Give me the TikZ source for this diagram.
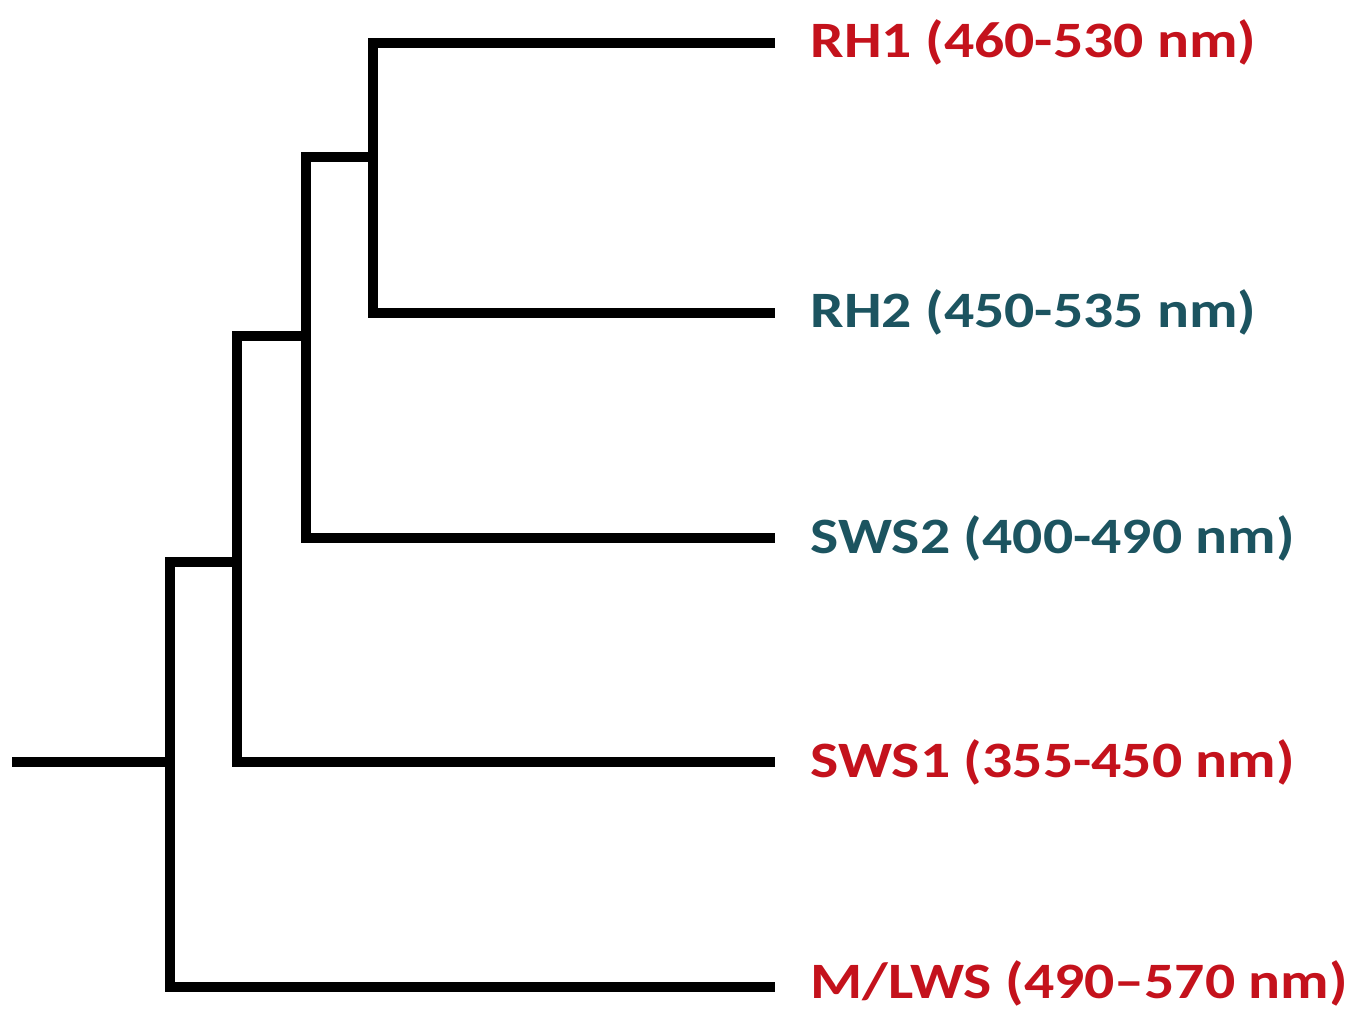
\documentclass[tikz,border=0pt]{standalone}
\usepackage{fontspec}
\setmainfont{Carlito}
\newfontfamily\labelfont[FakeStretch=1.17]{Carlito}
\definecolor{opsred}{RGB}{196,18,28}
\definecolor{opsteal}{RGB}{28,84,96}
\begin{document}
\begin{tikzpicture}[x=0.5pt,y=-0.5pt,
  branch/.style={line width=5pt,line join=miter,line cap=butt,black},
  leaflabel/.style={anchor=base west,inner sep=0pt,font=\labelfont\bfseries\fontsize{25.5}{30}\selectfont}]
\useasboundingbox (0,0) rectangle (1350,1010);
% leaf tips
\coordinate (tRH1)  at (775,43);
\coordinate (tRH2)  at (775,313);
\coordinate (tSWS2) at (775,538);
\coordinate (tSWS1) at (775,762);
\coordinate (tMLWS) at (775,987);
% internal nodes (vertical line, joining height)
\coordinate (nA) at (373,157);
\coordinate (nB) at (306,336);
\coordinate (nC) at (237,562);
\coordinate (nD) at (170,762);
\coordinate (root) at (12,762);
% branches
\draw[branch] (tRH1) -| (nA) |- (tRH2);
\draw[branch] (nA) -| (nB) |- (tSWS2);
\draw[branch] (nB) -| (nC) |- (tSWS1);
\draw[branch] (nC) -| (nD) |- (tMLWS);
\draw[branch] (root) -- (nD);
% labels
\node[leaflabel,text=opsred]  (lRH1)  at (810,58)  {RH1 (460-530 nm)};
\node[leaflabel,text=opsteal] (lRH2)  at (810,328) {RH2 (450-535 nm)};
\node[leaflabel,text=opsteal] (lSWS2) at (810,553) {SWS2 (400-490 nm)};
\node[leaflabel,text=opsred]  (lSWS1) at (810,777) {SWS1 (355-450 nm)};
\node[leaflabel,text=opsred]  (lMLWS) at (810,998) {M/LWS (490–570 nm)};
\end{tikzpicture}
\end{document}
